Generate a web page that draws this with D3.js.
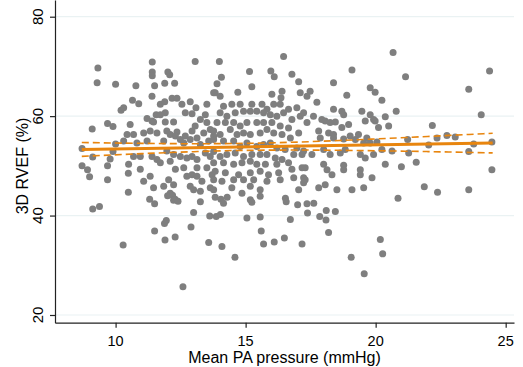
<!DOCTYPE html>
<html>
<head>
<meta charset="utf-8">
<script src="https://cdn.jsdelivr.net/npm/d3@7"></script>
<style>
  html, body { margin: 0; background: #fff; }
  text { font-family: "Liberation Sans", Arial, sans-serif; fill: #000; }
</style>
</head>
<body>
<svg id="chart" width="523" height="367"></svg>
<script>
const obs = [
  // dense part, 10.3 - 13.8 mmHg
  [10.78,66.1],[11.5,66.1],[11.89,66.6],[12.27,66.6],[11.4,64.0],[10.65,63.2],[10.89,62.5],[11.72,62.4],
  [11.89,62.9],[12.17,63.6],[12.36,63.6],[12.55,62.4],[12.87,62.9],[13.09,61.7],[13.51,62.4],[13.77,64.7],
  [12.68,60.7],[12.94,60.5],[13.45,60.3],[11.21,59.5],[11.4,59.0],[11.56,60.3],[11.72,60.3],[11.91,60.7],
  [11.46,58.8],[11.91,58.8],[12.23,58.8],[10.56,58.3],[12.36,56.8],[10.44,56.3],[10.69,56.3],[11.08,56.6],
  [11.33,57.0],[11.59,56.6],[11.97,57.0],[12.1,56.3],[12.3,56.0],[12.49,55.3],[12.68,56.0],[12.94,57.0],
  [13.06,58.0],[13.26,59.3],[13.51,58.7],[13.64,57.3],[13.39,56.6],[13.13,55.6],[12.87,55.3],[12.62,54.6],
  [13.26,54.3],[13.58,55.0],[13.77,56.0],[10.31,55.0],[10.82,54.6],[11.21,55.0],[11.85,55.0],[11.4,51.9],
  [10.95,51.9],[10.69,51.9],[11.97,53.0],[12.23,52.3],[12.49,51.9],[12.74,51.6],[12.94,51.9],[13.13,51.3],
  [13.45,52.6],[13.64,51.9],[11.59,51.3],[11.72,50.6],[12.1,50.9],[10.95,49.3],[10.5,50.3],[12.3,49.3],
  [12.62,49.6],[13.13,49.6],[13.51,49.6],[13.71,48.2],[11.33,47.9],[11.08,46.9],[12.04,47.2],[12.23,46.2],
  [12.74,47.9],[12.94,48.2],[13.13,47.9],[13.32,46.9],[12.87,45.9],[13.0,45.2],[13.26,44.9],[13.64,45.6],
  [11.46,45.6],[11.85,45.9],[12.1,44.5],[10.49,44.7],[10.49,48.5],
  // dense part, 13.8 - 17.2 mmHg
  [13.83,64.7],[14.02,64.0],[15.24,65.9],[14.7,64.8],[16.01,64.4],[16.4,65.0],[17.1,64.7],[17.04,66.9],
  [16.36,63.7],[14.15,62.0],[14.47,62.4],[14.79,62.4],[15.24,62.4],[15.63,62.4],[15.82,61.4],[16.08,62.4],
  [16.33,62.4],[16.46,60.7],[16.65,61.4],[16.97,61.7],[14.02,60.7],[14.28,60.0],[14.6,60.7],[14.92,61.0],
  [15.18,61.0],[15.43,61.0],[15.69,60.7],[15.95,60.3],[16.2,60.0],[16.78,59.3],[17.1,60.0],[13.9,58.7],
  [14.22,58.7],[14.54,58.7],[14.79,58.0],[15.05,58.7],[15.43,58.7],[15.69,58.7],[16.01,58.7],[16.33,58.0],
  [16.65,57.6],[17.04,56.6],[13.77,57.0],[14.02,56.3],[14.41,57.3],[14.67,56.3],[14.92,56.6],[15.18,56.3],
  [15.56,56.6],[15.82,57.3],[16.08,56.6],[16.4,56.3],[16.72,55.6],[13.77,55.3],[14.15,55.0],[14.54,55.0],
  [14.79,53.9],[15.05,54.6],[15.43,53.9],[15.69,54.3],[15.95,54.6],[16.2,53.6],[16.52,53.3],[16.97,53.6],
  [13.77,52.9],[14.02,51.9],[14.28,52.3],[14.6,52.6],[14.92,51.9],[15.24,52.3],[15.56,52.3],[15.82,52.3],
  [16.14,51.6],[16.4,51.3],[16.85,52.3],[17.17,52.3],[13.77,50.6],[14.15,50.6],[14.54,50.3],[14.86,50.6],
  [15.18,50.9],[15.43,50.3],[15.76,50.3],[16.2,50.3],[16.65,50.6],[13.83,48.9],[14.22,48.6],[14.73,48.2],
  [15.18,48.6],[15.56,48.9],[15.88,48.2],[16.27,48.6],[16.78,49.3],[17.17,49.6],[13.77,47.2],[14.09,46.9],
  [14.54,47.2],[14.92,47.2],[15.31,47.2],[15.82,46.9],[16.33,47.2],[16.85,47.6],[15.18,45.9],[14.47,45.6],
  [15.56,45.2],[17.04,45.2],[13.77,45.2],[14.86,44.5],
  // dense part, 17.2 - 20.6 mmHg
  [18.38,66.7],[19.79,65.7],[19.98,64.8],[17.48,65.0],[17.36,64.0],[17.74,62.8],[18.89,64.2],[20.24,63.2],
  [17.23,60.7],[17.61,60.0],[18.38,61.4],[18.7,61.0],[18.77,60.3],[19.47,61.0],[19.79,60.3],[19.92,59.3],
  [20.37,59.9],[17.36,58.7],[17.93,59.3],[18.06,59.0],[18.25,58.7],[18.45,58.8],[18.96,58.3],[19.6,59.0],
  [19.98,59.0],[17.81,57.0],[18.19,56.6],[18.38,56.3],[18.7,57.7],[19.02,56.0],[19.34,56.3],[19.66,55.6],
  [20.11,57.7],[20.5,58.0],[17.87,55.6],[18.38,55.6],[18.77,55.4],[19.22,55.3],[19.54,54.6],[19.79,54.6],
  [20.05,54.8],[20.24,53.3],[20.63,53.0],[17.23,53.0],[17.55,52.3],[18.0,53.3],[18.25,52.3],[18.64,52.6],
  [18.83,53.3],[19.41,52.3],[19.6,51.6],[19.92,52.3],[20.37,50.3],[17.29,49.6],[18.0,50.3],[18.13,49.2],
  [18.77,50.1],[18.77,49.2],[19.41,49.2],[19.41,48.2],[19.86,47.6],[17.23,47.6],[17.23,46.6],[17.29,47.2],
  [17.81,45.6],[18.51,45.2],[19.09,45.2],[19.54,45.6],[18.32,48.2],[18.06,46.2],
  // sparse points
  [8.71,53.5],[8.71,50.0],[8.92,49.2],[9.0,47.8],[9.12,51.8],[9.10,57.4],[9.32,69.7],[9.29,66.7],
  [9.12,41.3],[9.38,41.8],[9.69,58.5],[9.90,57.9],[9.69,50.0],[9.79,51.4],[9.69,47.2],[10.0,66.4],
  [10.0,54.4],[9.90,52.9],[10.29,34.1],[10.21,61.2],[10.31,61.7],[11.41,68.9],[11.41,70.9],[11.41,68.1],
  [11.5,42.4],[11.5,36.9],[11.9,35.1],[11.95,39.0],[11.88,38.4],[12.01,68.9],[12.08,68.3],[12.0,44.0],
  [12.19,44.1],[12.29,35.7],[12.29,43.3],[12.23,43.1],[12.4,42.9],[12.59,25.7],[12.9,37.7],[13.0,40.6],
  [13.06,71.0],[13.26,42.8],[13.58,34.6],[13.62,39.9],[13.87,39.8],[13.83,43.7],[13.99,71.0],[14.03,40.2],
  [14.09,33.8],[14.29,43.7],[14.05,43.3],[14.15,42.5],[14.59,31.6],[15.15,69.0],[15.05,39.5],[15.18,43.2],
  [15.24,42.7],[15.56,39.7],[15.6,36.9],[15.69,34.3],[15.56,43.9],[15.97,69.1],[16.1,67.9],[16.46,72.0],
  [16.53,43.5],[16.49,35.5],[16.56,42.8],[16.78,68.4],[16.72,39.2],[17.17,34.3],[17.38,40.5],[17.36,42.4],
  [17.62,42.5],[17.85,39.8],[18.09,39.1],[18.19,36.6],[18.45,40.8],[19.09,69.3],[19.56,28.3],[19.06,31.6],
  [20.18,35.2],[20.27,32.3],[20.67,72.8],[20.79,61.0],[20.99,49.8],[20.86,43.5],[21.15,67.9],[21.23,55.3],
  [21.27,52.6],[21.56,50.7],[21.87,45.8],[22.18,58.1],[22.04,54.2],[22.36,55.6],[22.38,44.7],[22.74,56.1],
  [23.06,55.8],[23.58,65.4],[23.58,52.9],[23.58,45.2],[23.77,54.4],[24.06,60.3],[24.38,69.1],[24.47,54.8],
  [24.47,49.2],[11.31,43.3],[16.1,34.7],[18.1,41.0],[17.0,42.2],[14.07,67.8],[13.9,66.5]
];

// linear fit and its 95% CI
const fitX = [8.7, 24.5];
const fitY = [53.3, 54.6];
const ciX  = [8.7, 11, 13, 15, 17, 20, 22, 24.5];
const ciLo = [51.9, 52.45, 52.85, 53.12, 53.18, 53.04, 52.87, 52.6];
const ciHi = [54.7, 54.53, 54.45, 54.52, 54.78, 55.42, 55.91, 56.56];

const xTicks = [10, 15, 20, 25];
const yTicks = [20, 40, 60, 80];

const ORANGE = '#e8850e';
const GREY   = '#7f7f7f';

const svg = d3.select('#chart');
const x = d3.scaleLinear().domain([7.67, 25.32]).range([55, 514]);
const y = d3.scaleLinear().domain([18.45, 83.36]).range([322.7, 0]);

// gridlines
svg.append('g')
  .selectAll('line')
  .data(yTicks)
  .enter().append('line')
  .attr('x1', 56).attr('x2', 514)
  .attr('y1', d => y(d)).attr('y2', d => y(d))
  .attr('stroke', '#eaf2f3')
  .attr('stroke-width', 1.2);

// points
svg.append('g')
  .selectAll('circle')
  .data(obs)
  .enter().append('circle')
  .attr('cx', d => x(d[0]))
  .attr('cy', d => y(d[1]))
  .attr('r', 3.5)
  .attr('fill', GREY);

// CI bounds
const ciLine = (arr) => d3.line()
  .x((d, i) => x(ciX[i]))
  .y(d => y(d))
  .curve(d3.curveMonotoneX)(arr);

[ciLo, ciHi].forEach(arr => {
  svg.append('path')
    .attr('d', ciLine(arr))
    .attr('fill', 'none')
    .attr('stroke', ORANGE)
    .attr('stroke-width', 1.6)
    .attr('stroke-dasharray', '7,4');
});

// fitted line
svg.append('path')
  .attr('d', d3.line().x((d, i) => x(fitX[i])).y(d => y(d))(fitY))
  .attr('fill', 'none')
  .attr('stroke', ORANGE)
  .attr('stroke-width', 3);

// axes
const yAxis = svg.append('g')
  .attr('transform', 'translate(55,0)')
  .call(d3.axisLeft(y).tickValues(yTicks).tickSize(5).tickSizeOuter(0).tickFormat(''));
const xAxis = svg.append('g')
  .attr('transform', 'translate(0,322.7)')
  .call(d3.axisBottom(x).tickValues(xTicks).tickSize(5).tickSizeOuter(0).tickFormat(''));
[yAxis, xAxis].forEach(a => {
  a.selectAll('path, line').attr('stroke', '#222').attr('stroke-width', 1.2);
});

// tick labels
svg.append('g')
  .selectAll('text')
  .data(yTicks)
  .enter().append('text')
  .attr('x', 43)
  .attr('y', d => y(d))
  .attr('transform', d => `rotate(-90,43,${y(d)})`)
  .attr('text-anchor', 'middle')
  .style('font-size', '15px')
  .text(d => d);

svg.append('g')
  .selectAll('text')
  .data(xTicks)
  .enter().append('text')
  .attr('x', d => x(d))
  .attr('y', 345.5)
  .attr('text-anchor', 'middle')
  .style('font-size', '14.5px')
  .text(d => d);

// axis titles
svg.append('text')
  .attr('x', 284.5).attr('y', 363)
  .attr('text-anchor', 'middle')
  .style('font-size', '16px')
  .text('Mean PA pressure (mmHg)');

svg.append('text')
  .attr('transform', 'translate(28,166) rotate(-90)')
  .attr('text-anchor', 'middle')
  .style('font-size', '16px')
  .text('3D RVEF (%)');
</script>
</body>
</html>
